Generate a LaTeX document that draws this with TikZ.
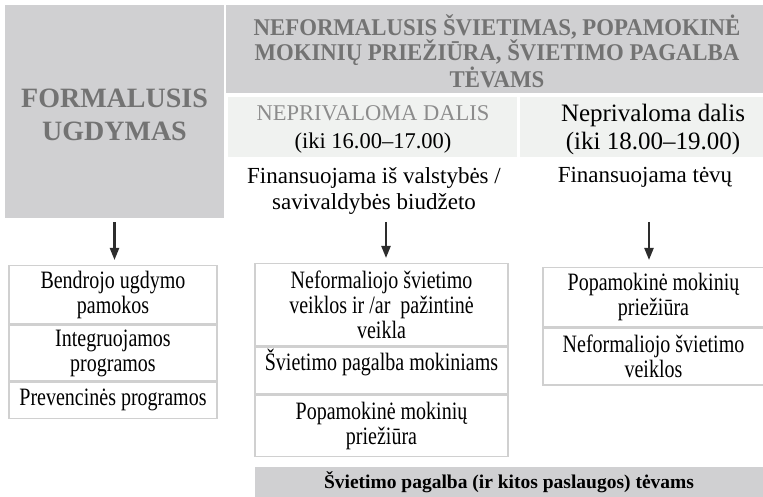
\documentclass[tikz,border=0pt]{standalone}
\usepackage{fontspec}
\setmainfont{Liberation Serif}
\newfontfamily\cellfam{Liberation Serif}[FakeStretch=0.8]
\newfontfamily\hdrfam{Liberation Serif}[FakeStretch=0.95]
\usetikzlibrary{arrows.meta,positioning}
\definecolor{hdrfill}{RGB}{208,208,210}
\definecolor{hdrtext}{RGB}{115,115,115}
\definecolor{bandfill}{RGB}{240,242,240}
\definecolor{celledge}{RGB}{208,208,208}
\definecolor{arrowdark}{RGB}{45,45,45}
\definecolor{dimtext}{RGB}{140,140,140}

\begin{document}
\begin{tikzpicture}[x=1pt, y=-1pt, every node/.style={inner sep=0pt, align=center, font=\fontsize{23}{26}\selectfont}, >={Triangle[length=12pt,width=9pt]},
	block/.style={fill=hdrfill},
	band/.style={fill=bandfill},
	cell/.style={draw=celledge, line width=1.3pt, fill=white, anchor=north, minimum width=#1, font=\cellfam\fontsize{25}{25}\selectfont},
	arr/.style={->, line width=2.2pt, draw=arrowdark},
	hdrfont/.style={font=\hdrfam\bfseries\fontsize{24}{25}\selectfont, text=hdrtext}]
	\useasboundingbox (0,0) rectangle (763,497);
	\node[block, minimum width=219pt, minimum height=213pt] (formal) at (114.5,111.5) {};
	\node[block, minimum width=537pt, minimum height=88pt] (nonformal) at (494.5,49) {};
	\node[band, minimum width=289pt, minimum height=60pt] (freeband) at (372.5,127) {};
	\node[band, minimum width=243pt, minimum height=60pt] (paidband) at (641.5,127) {};
	\node[hdrfont, font=\bfseries\fontsize{28}{33}\selectfont] (formaltxt) at (114.5,115) {FORMALUSIS\\UGDYMAS};
	\node[hdrfont] (nonformaltxt) at (497,51) {NEFORMALUSIS ŠVIETIMAS, POPAMOKINĖ\\MOKINIŲ PRIEŽIŪRA, ŠVIETIMO PAGALBA\\TĖVAMS};
	\node[font=\fontsize{22.5}{28}\selectfont] (freetxt) at (373,129) {\textcolor{dimtext}{NEPRIVALOMA DALIS}\\(iki 16.00–17.00)};
	\node[font=\fontsize{25}{28}\selectfont] (paidtxt) at (653,129) {Neprivaloma dalis\\(iki 18.00–19.00)};
	\node (statefund) at (374,190.5) {Finansuojama iš valstybės /\\savivaldybės biudžeto};
	\node (parentfund) at (645,177.5) {Finansuojama tėvų};

	\node[cell=208pt, minimum height=58pt] (lc1) at (113,265) {Bendrojo ugdymo\\pamokos};
	\node[cell=208pt, minimum height=56pt, below=0pt of lc1] (lc2) {Integruojamos\\programos};
	\node[cell=208pt, minimum height=36pt, below=0pt of lc2] (lc3) {Prevencinės programos};

	\node[cell=253pt, minimum height=82pt] (mc1) at (381.5,263) {Neformaliojo švietimo\\veiklos ir /ar~ pažintinė\\veikla};
	\node[cell=253pt, minimum height=47pt, text depth=22pt, below=0pt of mc1] (mc2) {Švietimo pagalba mokiniams};
	\node[cell=253pt, minimum height=61pt, below=0pt of mc2] (mc3) {Popamokinė mokinių\\priežiūra};

	\node[cell=221pt, minimum height=59pt] (rc1) at (653.5,267) {Popamokinė mokinių\\priežiūra};
	\node[cell=221pt, minimum height=57pt, below=0pt of rc1] (rc2) {Neformaliojo švietimo\\veiklos};

	\node[block, minimum width=508pt, minimum height=30pt, font=\bfseries\fontsize{19.5}{22}\selectfont] (parentband) at (509,482) {Švietimo pagalba (ir kitos paslaugos) tėvams};

	\coordinate (mtail) at (386,222);
	\coordinate (rtail) at (649,222);
	\draw[arr, shorten <=4pt, shorten >=5pt] (formal.south) -- (formal.south |- lc1.north);
	\draw[arr, shorten >=5pt] (mtail) -- (mtail |- mc1.north);
	\draw[arr, shorten >=7pt] (rtail) -- (rtail |- rc1.north);
\end{tikzpicture}
\end{document}
